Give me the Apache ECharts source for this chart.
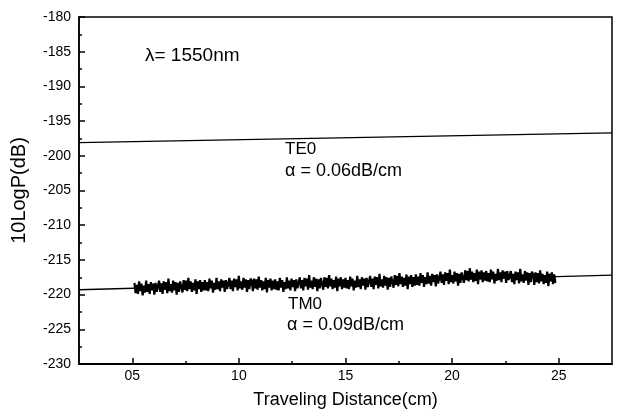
<!DOCTYPE html>
<html>
<head>
<meta charset="utf-8">
<script src="https://cdn.jsdelivr.net/npm/echarts@6/dist/echarts.min.js"></script>
<style>
  html, body { margin: 0; padding: 0; background: #fff; }
  #main { width: 619px; height: 414px; }
</style>
</head>
<body>
<div id="main"></div>
<script>
// x ticks (cm)
var majorX = [0.5, 1.0, 1.5, 2.0, 2.5];
var minorX = [0.75, 1.25, 1.75, 2.25];

// linear fits
var fitX = [0.25, 2.75];
var teFit = [-198.1, -196.7];
var tmFit = [-219.3, -217.2];

// measured TM0 trace, sampled from 0.51 cm in steps of 0.0055 cm
var tmStart = 0.51;
var tmStep = 0.0055;
var tmTrace = [
    -218.3, -219.8, -218.6, -219.9, -218.1, -219.5, -218.4, -220.1, -218.7, -219.7, -218.0, -219.6, -218.5, -219.9, -218.2, -219.4, -218.4, -220.0, -218.3, -219.6,
    -219.5, -218.0, -219.6, -218.4, -219.9, -218.1, -219.3, -218.2, -219.8, -217.7, -219.5, -218.5, -219.7, -218.0, -219.4, -218.2, -220.0, -218.3, -219.6, -218.1,
    -218.2, -219.7, -217.9, -219.3, -218.0, -219.5, -217.6, -219.2, -218.1, -219.6, -218.3, -219.4, -217.8, -219.9, -218.1, -219.2, -217.9, -219.6, -218.2, -219.4,
    -217.9, -219.4, -218.2, -219.5, -217.7, -219.1, -218.0, -219.7, -218.3, -219.3, -217.6, -219.2, -218.1, -219.5, -217.8, -219.0, -218.0, -219.6, -217.9, -219.2,
    -219.1, -217.6, -219.2, -218.0, -219.5, -217.7, -218.9, -217.8, -219.4, -217.3, -219.1, -218.1, -219.3, -217.6, -219.0, -217.8, -219.6, -217.9, -219.2, -217.7,
    -218.0, -219.5, -217.7, -219.1, -217.8, -219.3, -217.4, -219.0, -217.9, -219.4, -218.1, -219.2, -217.6, -219.7, -217.9, -219.0, -217.7, -219.4, -218.0, -219.2,
    -217.8, -219.3, -218.1, -219.4, -217.6, -219.0, -217.9, -219.6, -218.2, -219.2, -217.5, -219.1, -218.0, -219.4, -217.7, -218.9, -217.9, -219.5, -217.8, -219.1,
    -219.0, -217.5, -219.1, -217.9, -219.4, -217.6, -218.8, -217.7, -219.3, -217.2, -219.0, -218.0, -219.2, -217.5, -218.9, -217.7, -219.5, -217.8, -219.1, -217.6,
    -217.8, -219.3, -217.5, -218.9, -217.6, -219.1, -217.2, -218.8, -217.7, -219.2, -217.9, -219.0, -217.4, -219.5, -217.7, -218.8, -217.5, -219.2, -217.8, -219.0,
    -217.6, -219.1, -217.9, -219.2, -217.4, -218.8, -217.7, -219.4, -218.0, -219.0, -217.3, -218.9, -217.8, -219.2, -217.5, -218.7, -217.7, -219.3, -217.6, -218.9,
    -218.8, -217.3, -218.9, -217.7, -219.2, -217.4, -218.6, -217.5, -219.1, -217.0, -218.8, -217.8, -219.0, -217.3, -218.7, -217.5, -219.3, -217.6, -218.9, -217.4,
    -217.5, -219.0, -217.2, -218.6, -217.3, -218.8, -216.9, -218.5, -217.4, -218.9, -217.6, -218.7, -217.1, -219.2, -217.4, -218.5, -217.2, -218.9, -217.5, -218.7,
    -217.1, -218.6, -217.4, -218.7, -216.9, -218.3, -217.2, -218.9, -217.5, -218.5, -216.8, -218.4, -217.3, -218.7, -217.0, -218.2, -217.2, -218.8, -217.1, -218.4,
    -218.2, -216.7, -218.3, -217.1, -218.6, -216.8, -218.0, -216.9, -218.5, -216.4, -218.2, -217.2, -218.4, -216.7, -218.1, -216.9, -218.7, -217.0, -218.3, -216.8,
    -216.8, -218.3, -216.5, -217.9, -216.6, -218.1, -216.2, -217.8, -216.7, -218.2, -216.9, -218.0, -216.4, -218.5, -216.7, -217.8, -216.5, -218.2, -216.8, -218.0,
    -216.6, -218.1, -216.9, -218.2, -216.4, -217.8, -216.7, -218.4, -217.0, -218.0, -216.3, -217.9, -216.8, -218.2, -216.5, -217.7, -216.7, -218.3, -216.6, -217.9,
    -218.1, -216.6, -218.2, -217.0, -218.5, -216.7, -217.9, -216.8, -218.4, -216.3, -218.1, -217.1, -218.3, -216.6, -218.0, -216.8, -218.6, -216.9, -218.2, -216.7,
    -217.1, -218.6, -216.8, -218.2, -216.9, -218.4, -216.5, -218.1, -217.0, -218.5, -217.2, -218.3, -216.7, -218.8, -217.0, -218.1, -216.8, -218.5, -217.1, -218.3
];

var font = 'Liberation Sans, Arial, sans-serif';

var traceData = [];
for (var i = 0; i < tmTrace.length; i++) {
    traceData.push([tmStart + i * tmStep, tmTrace[i]]);
}
var teData = [[fitX[0], teFit[0]], [fitX[1], teFit[1]]];
var tmData = [[fitX[0], tmFit[0]], [fitX[1], tmFit[1]]];

var chart = echarts.init(document.getElementById('main'));

var option = {
    animation: false,
    backgroundColor: '#fff',
    grid: {
        left: 79, right: 7, top: 17, bottom: 46,
        show: true, borderColor: '#000', borderWidth: 1.5
    },
    xAxis: [{
        type: 'value',
        min: 0.25, max: 2.75,
        name: 'Traveling Distance(cm)',
        nameLocation: 'middle',
        nameGap: 27,
        nameTextStyle: { fontFamily: font, fontSize: 18, color: '#000' },
        axisLine: { lineStyle: { color: '#000', width: 2 } },
        axisTick: { inside: true, length: 6, customValues: majorX, lineStyle: { color: '#000', width: 1.5 } },
        axisLabel: {
            customValues: majorX, margin: 5,
            fontFamily: font, fontSize: 14, color: '#000',
            formatter: function (v) { return v.toFixed(1).replace('.', ''); }
        },
        splitLine: { show: false }
    }, {
        type: 'value',
        min: 0.25, max: 2.75,
        position: 'bottom',
        axisLine: { show: false },
        axisTick: { inside: true, length: 3, customValues: minorX, lineStyle: { color: '#000', width: 1.5 } },
        axisLabel: { show: false },
        splitLine: { show: false }
    }],
    yAxis: {
        type: 'value',
        min: -230, max: -180, interval: 5,
        name: '10LogP(dB)',
        nameLocation: 'middle',
        nameGap: 50,
        nameTextStyle: { fontFamily: font, fontSize: 20, color: '#000' },
        axisLine: { show: true, lineStyle: { color: '#000', width: 1.5 } },
        axisTick: { inside: true, length: 6, lineStyle: { color: '#000', width: 1.5 } },
        minorTick: { show: true, splitNumber: 2, length: 3, lineStyle: { color: '#000', width: 1.5 } },
        axisLabel: { margin: 8, fontFamily: font, fontSize: 14, color: '#000' },
        splitLine: { show: false }
    },
    series: [{
        type: 'line',
        data: teData,
        symbol: 'none',
        lineStyle: { color: '#000', width: 1.4 }
    }, {
        type: 'line',
        data: tmData,
        symbol: 'none',
        lineStyle: { color: '#000', width: 1.4 }
    }, {
        type: 'line',
        data: traceData,
        symbol: 'none',
        lineStyle: { color: '#000', width: 2.2 }
    }],
    graphic: [
        { type: 'text', left: 145, top: 46, style: { text: 'λ= 1550nm', font: '19px ' + font, fill: '#000' } },
        { type: 'text', left: 285, top: 141, style: { text: 'TE0', font: '17px ' + font, fill: '#000' } },
        { type: 'text', left: 285, top: 162, style: { text: 'α = 0.06dB/cm', font: '18px ' + font, fill: '#000' } },
        { type: 'text', left: 288, top: 296, style: { text: 'TM0', font: '17px ' + font, fill: '#000' } },
        { type: 'text', left: 287, top: 316, style: { text: 'α = 0.09dB/cm', font: '18px ' + font, fill: '#000' } }
    ]
};

chart.setOption(option);
</script>
</body>
</html>
